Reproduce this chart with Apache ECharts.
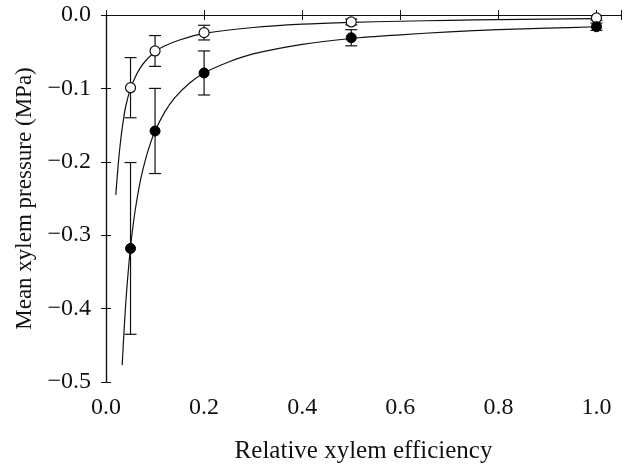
<!DOCTYPE html>
<html>
<head>
<meta charset="utf-8">
<script src="https://cdn.jsdelivr.net/npm/echarts@6/dist/echarts.min.js"></script>
<style>
  html, body { margin: 0; padding: 0; background: #fff; }
  #chart { width: 625px; height: 469px; }
</style>
</head>
<body>
<div id="chart"></div>
<script>
// values
var xPoints = [0.05, 0.1, 0.2, 0.5, 1.0];
var openMean = [-0.099, -0.049, -0.024, -0.0095, -0.004];
var openErr = [0.041, 0.021, 0.010, 0.004, 0.003];
var filledMean = [-0.318, -0.158, -0.079, -0.031, -0.016];
var filledErr = [0.117, 0.058, 0.030, 0.011, 0.005];

// fitted curves
var openCurveX = [0.02, 0.025, 0.03, 0.035, 0.04, 0.05, 0.06, 0.07, 0.08, 0.1, 0.12, 0.15, 0.2, 0.3, 0.4, 0.5, 0.6, 0.7, 0.8, 0.9, 1.0];
var openCurveY = [-0.245, -0.203, -0.17, -0.145, -0.125, -0.1, -0.084, -0.072, -0.063, -0.05, -0.042, -0.034, -0.025, -0.017, -0.0125, -0.01, -0.0085, -0.0072, -0.0063, -0.0056, -0.005];
var filledCurveX = [0.033, 0.036, 0.04, 0.045, 0.05, 0.055, 0.06, 0.07, 0.08, 0.09, 0.1, 0.12, 0.14, 0.17, 0.2, 0.25, 0.3, 0.4, 0.5, 0.6, 0.7, 0.8, 0.9, 1.0];
var filledCurveY = [-0.477, -0.44, -0.395, -0.352, -0.316, -0.288, -0.264, -0.226, -0.198, -0.176, -0.158, -0.132, -0.113, -0.093, -0.079, -0.064, -0.053, -0.04, -0.032, -0.027, -0.023, -0.02, -0.018, -0.016];

var xTicks = [0, 0.2, 0.4, 0.6, 0.8, 1.0];
var yTicks = [0, -0.1, -0.2, -0.3, -0.4, -0.5];

function zip(a, b) {
  return a.map(function (v, i) { return [v, b[i]]; });
}
function errData(mean, err) {
  return xPoints.map(function (x, i) { return [x, mean[i] - err[i], mean[i] + err[i]]; });
}
function isTick(v, list) {
  return list.some(function (t) { return Math.abs(t - v) < 1e-6; });
}

var font = '"Liberation Serif", "Times New Roman", serif';
var ink = '#111';

function errorBars(params, api) {
  var x = api.value(0);
  var lo = api.coord([x, api.value(1)]);
  var hi = api.coord([x, api.value(2)]);
  var w = 6;
  var st = { stroke: ink, lineWidth: 1.2 };
  return {
    type: 'group',
    children: [
      { type: 'line', shape: { x1: lo[0], y1: lo[1], x2: hi[0], y2: hi[1] }, style: st },
      { type: 'line', shape: { x1: lo[0] - w, y1: lo[1], x2: lo[0] + w, y2: lo[1] }, style: st },
      { type: 'line', shape: { x1: hi[0] - w, y1: hi[1], x2: hi[0] + w, y2: hi[1] }, style: st }
    ]
  };
}

var chart = echarts.init(document.getElementById('chart'));

var baseX = {
  type: 'value', min: 0, max: 1.05, interval: 0.2,
  splitLine: { show: false },
  axisLine: { show: true, lineStyle: { color: ink, width: 1.2 } },
  axisTick: { inside: true, length: 5, lineStyle: { color: ink } }
};
var baseY = {
  type: 'value', min: -0.5, max: 0, interval: 0.1,
  splitLine: { show: false },
  axisLine: { show: true, lineStyle: { color: ink, width: 1.2 } },
  axisTick: { inside: true, length: 5, lineStyle: { color: ink } }
};

var option = {
  backgroundColor: '#fff',
  animation: false,
  grid: { left: 106, right: 4, top: 15, bottom: 84 },
  xAxis: [
    Object.assign({}, baseX, {
      position: 'bottom',
      name: 'Relative xylem efficiency',
      nameLocation: 'middle',
      nameGap: 57,
      nameTextStyle: { fontFamily: font, fontSize: 25, color: ink },
      axisLabel: {
        margin: 14, fontFamily: font, fontSize: 24, color: ink,
        formatter: function (v) { return isTick(v, xTicks) ? v.toFixed(1) : ''; }
      }
    }),
    Object.assign({}, baseX, { position: 'top', axisLabel: { show: false } })
  ],
  yAxis: [
    Object.assign({}, baseY, {
      position: 'left',
      name: 'Mean xylem pressure (MPa)',
      nameLocation: 'middle',
      nameGap: 60,
      nameTextStyle: { fontFamily: font, fontSize: 23, color: ink },
      axisLabel: {
        margin: 15, fontFamily: font, fontSize: 24, color: ink,
        formatter: function (v) {
          if (!isTick(v, yTicks)) return '';
          return Math.abs(v) < 1e-9 ? '0.0' : v.toFixed(1).replace('-', '\u2212');
        }
      }
    }),
    Object.assign({}, baseY, { position: 'right', axisLabel: { show: false } })
  ],
  series: [
    {
      type: 'line', data: zip(openCurveX, openCurveY), showSymbol: false,
      smooth: 0.3,
      lineStyle: { color: ink, width: 1.2 }, z: 1
    },
    {
      type: 'line', data: zip(filledCurveX, filledCurveY), showSymbol: false,
      smooth: 0.3,
      lineStyle: { color: ink, width: 1.2 }, z: 1
    },
    { type: 'custom', renderItem: errorBars, data: errData(openMean, openErr), encode: { x: 0, y: [1, 2] }, z: 2 },
    { type: 'custom', renderItem: errorBars, data: errData(filledMean, filledErr), encode: { x: 0, y: [1, 2] }, z: 2 },
    {
      type: 'scatter', data: zip(xPoints, openMean), symbol: 'circle', symbolSize: 10,
      itemStyle: { color: '#fff', borderColor: ink, borderWidth: 1.2, opacity: 1 }, z: 3
    },
    {
      type: 'scatter', data: zip(xPoints, filledMean), symbol: 'circle', symbolSize: 10,
      itemStyle: { color: '#000', borderColor: '#000', borderWidth: 1, opacity: 1 }, z: 3
    }
  ]
};

chart.setOption(option);
</script>
</body>
</html>
